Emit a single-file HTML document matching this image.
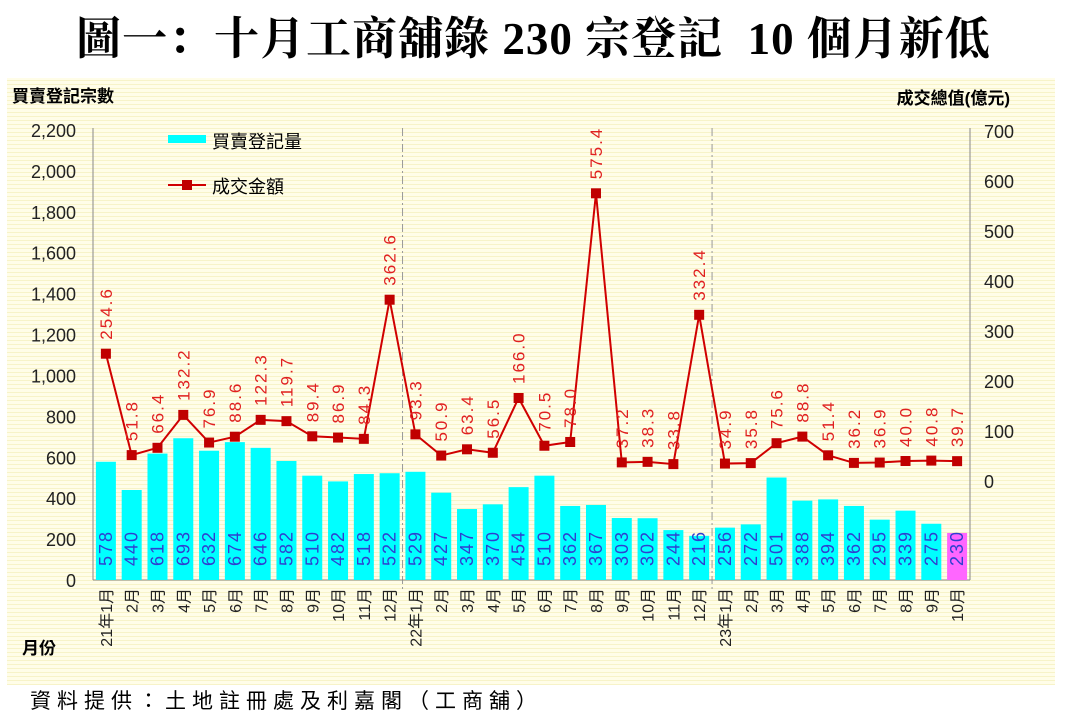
<!DOCTYPE html>
<html><head><meta charset="utf-8"><style>
body{margin:0;width:1067px;height:719px;background:#fff;overflow:hidden;font-family:"Liberation Sans","Noto Sans CJK TC",sans-serif}
#t{position:absolute;left:0;width:1067px;top:2px;text-align:center;font:bold 45px "Liberation Serif","Noto Serif CJK SC",serif;letter-spacing:1px;white-space:nowrap}
#f{position:absolute;left:30px;top:685px;font-size:21px;letter-spacing:6px}
svg{position:absolute;left:0;top:0}
</style></head><body>
<div id="t">圖一：十月工商舖錄 230 宗登記&nbsp; 10 個月新低</div>
<svg id="s" width="1067" height="719" xmlns="http://www.w3.org/2000/svg">
<defs><pattern id="p" width="4" height="4" patternUnits="userSpaceOnUse"><rect width="4" height="4" fill="#fffde8"/><rect width="4" height="1" fill="#f7f3c8"/></pattern></defs>
<rect x="7" y="78" width="1048" height="607" fill="url(#p)"/>
</svg>
<div id="f">資料提供：土地註冊處及利嘉閣（工商舖）</div>
<script>
const s=document.getElementById('s');const N='http://www.w3.org/2000/svg';
function el(t,a,txt){const e=document.createElementNS(N,t);for(const k in a)e.setAttribute(k,a[k]);if(txt!==undefined)e.textContent=txt;s.appendChild(e);return e;}
const bars=[578,440,618,693,632,674,646,582,510,482,518,522,529,427,347,370,454,510,362,367,303,302,244,216,256,272,501,388,394,362,295,339,275,230];
const vals=["254.6","51.8","66.4","132.2","76.9","88.6","122.3","119.7","89.4","86.9","84.3","362.6","93.3","50.9","63.4","56.5","166.0","70.5","78.0","575.4","37.2","38.3","33.8","332.4","34.9","35.8","75.6","88.8","51.4","36.2","36.9","40.0","40.8","39.7"];
const L=93,R=970,B=580,sw=(R-L)/34;
const yl=v=>B-v*450/2200, yr=v=>481-v*0.5;
el('text',{x:12,y:102,'font-size':17,'font-weight':'bold'},'買賣登記宗數');
el('text',{x:1010,y:104,'font-size':17,'font-weight':'bold','text-anchor':'end'},'成交總值(億元)');
el('text',{x:22,y:654,'font-size':17,'font-weight':'bold'},'月份');
for(let v=0;v<=2200;v+=200)el('text',{x:76,y:yl(v)+7,'font-size':18,'text-anchor':'end',fill:'#222'},v.toLocaleString('en-US'));
for(let v=0;v<=700;v+=100)el('text',{x:984,y:yr(v)+7,'font-size':18,fill:'#222'},v);
[12,24].forEach(i=>el('line',{x1:L+sw*i,x2:L+sw*i,y1:128,y2:590,stroke:'#999','stroke-dasharray':'8,3,2,3'}));
el('line',{x1:L,x2:L,y1:128,y2:B,stroke:'#888'});
el('line',{x1:R,x2:R,y1:128,y2:B,stroke:'#888'});
el('line',{x1:L,x2:R,y1:B,y2:B,stroke:'#888'});
const pts=[];
bars.forEach((v,i)=>{const cx=L+sw*(i+0.5);
el('rect',{x:cx-10,y:yl(v),width:20,height:B-yl(v),fill:i==33?'#ff66ff':'#00ffff'});
el('text',{transform:`translate(${cx+6},566) rotate(-90)`,'font-size':18,fill:'#2f3fd0','letter-spacing':2},v);
const m=i%12+1;const lab=(i==0?'21年':i==12?'22年':i==24?'23年':'')+m+'月';
el('text',{transform:`translate(${cx+6},588) rotate(-90)`,'font-size':16,'text-anchor':'end',fill:'#222'},lab);
pts.push([cx,yr(parseFloat(vals[i]))]);});
el('polyline',{points:pts.map(p=>p.join(',')).join(' '),fill:'none',stroke:'#d00000','stroke-width':2});
pts.forEach((p,i)=>{el('rect',{x:p[0]-5,y:p[1]-5,width:10,height:10,fill:'#c00000'});
el('text',{transform:`translate(${p[0]+6},${p[1]-14}) rotate(-90)`,'font-size':17,fill:'#e02020','letter-spacing':2},vals[i]);});
el('rect',{x:168,y:135,width:38,height:8,fill:'#00ffff'});
el('text',{x:212,y:148,'font-size':18},'買賣登記量');
el('line',{x1:168,x2:206,y1:185,y2:185,stroke:'#d00000','stroke-width':2});
el('rect',{x:182,y:180,width:10,height:10,fill:'#c00000'});
el('text',{x:212,y:193,'font-size':18},'成交金額');
</script>
</body></html>
